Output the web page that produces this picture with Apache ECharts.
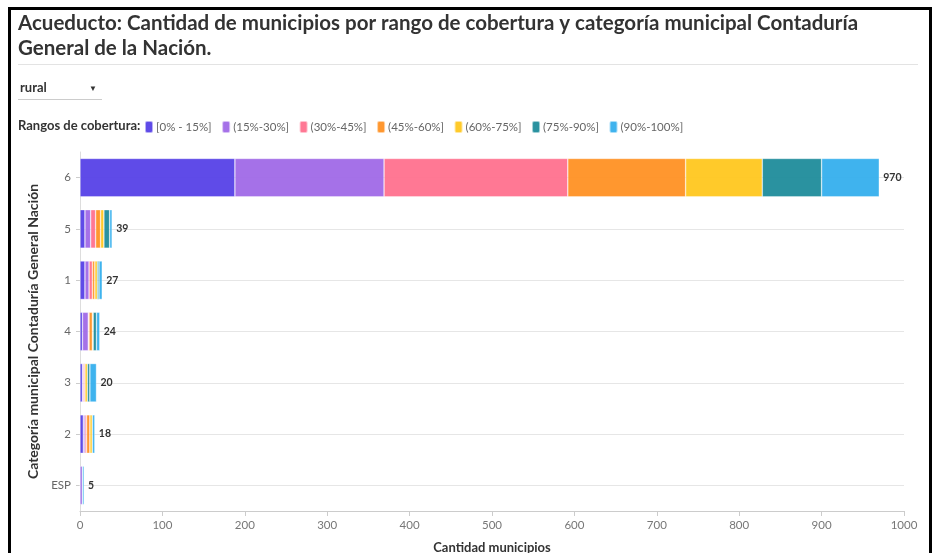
<!DOCTYPE html>
<html><head><meta charset="utf-8">
<script src="https://cdn.jsdelivr.net/npm/echarts@6/dist/echarts.min.js"></script>
<style>html,body{margin:0;padding:0;background:#fff}#c{width:933px;height:553px}</style>
</head><body><div id="c"></div>
<script>
const categories = ['6', '5', '1', '4', '3', '2', 'ESP'];
const rangeNames = ['[0% - 15%]', '(15%-30%]', '(30%-45%]', '(45%-60%]', '(60%-75%]', '(75%-90%]', '(90%-100%]'];
const r0_15   = [188, 6, 6, 3, 3, 4, 0];
const r15_30  = [181, 7, 5, 7, 1, 2, 3];
const r30_45  = [223, 6, 4, 1, 2, 2, 0];
const r45_60  = [143, 6, 3, 4, 0, 4, 0];
const r60_75  = [93, 4, 3, 1, 3, 3, 0];
const r75_90  = [72, 7, 2, 4, 3, 0, 0];
const r90_100 = [70, 3, 4, 4, 8, 3, 2];
const xTicks = [0, 100, 200, 300, 400, 500, 600, 700, 800, 900, 1000];
const colors = ['#533de6', '#9e66e6', '#ff6e8c', '#ff8f1f', '#ffc61a', '#1a8a99', '#30aded'];

const seriesData = [r0_15, r15_30, r30_45, r45_60, r60_75, r75_90, r90_100];
const totals = categories.map((c, i) => seriesData.reduce((s, a) => s + a[i], 0));
const FONT = 'Lato, "Noto Sans", sans-serif';

const chart = echarts.init(document.getElementById('c'));
const series = seriesData.map((d, k) => ({
  name: rangeNames[k], type: 'bar', stack: 'a', data: d, barWidth: '75%', z: 3,
  itemStyle: { color: colors[k], opacity: 0.93, borderColor: 'rgba(255,255,255,0.6)', borderWidth: 0.6 }
}));
series.push({
  name: 'total', type: 'bar', stack: 'a', data: categories.map(() => 0), z: 4,
  itemStyle: { color: 'transparent' },
  label: { show: true, position: 'right', distance: 4, fontFamily: FONT, fontWeight: 'bold', fontSize: 10.5, color: '#333',
    formatter: p => totals[p.dataIndex] }
});
series.push({
  name: 'grid', type: 'line', data: [], z: 1, silent: true,
  markLine: { silent: true, z: 1, symbol: 'none', label: { show: false },
    lineStyle: { color: '#e6e6e6', type: 'solid', width: 1 },
    data: categories.map(c => ({ yAxis: c })) }
});

chart.setOption({
  animation: false,
  color: colors,
  textStyle: { fontFamily: FONT },
  grid: { left: 80, right: 29, top: 152, bottom: 42, containLabel: false, outerBoundsMode: 'none' },
  legend: {
    data: rangeNames, left: 144, top: 120, padding: 0, itemWidth: 8, itemHeight: 12, itemGap: 9.5,
    icon: 'roundRect', textStyle: { fontFamily: FONT, fontSize: 11.5, color: '#666', padding: [0, 0, 0, -2] }
  },
  xAxis: {
    type: 'value', min: xTicks[0], max: xTicks[xTicks.length - 1], interval: 100,
    name: 'Cantidad municipios', nameLocation: 'middle', nameGap: 30,
    nameTextStyle: { fontFamily: FONT, fontWeight: 'bold', fontSize: 13, color: '#333' },
    axisLine: { show: true, lineStyle: { color: '#ccc' } },
    axisTick: { show: true, length: 5, lineStyle: { color: '#ccc' } },
    axisLabel: { fontSize: 11.5, color: '#777', margin: 8, formatter: v => String(v) },
    splitLine: { show: false }
  },
  yAxis: {
    type: 'category', data: categories, inverse: true,
    name: 'Categoría municipal Contaduría General Nación', nameLocation: 'middle', nameGap: 40,
    nameTextStyle: { fontFamily: FONT, fontWeight: 'bold', fontSize: 14, color: '#333' },
    axisLine: { show: true, lineStyle: { color: '#ddd' } },
    axisTick: { show: true, alignWithLabel: true, length: 4, lineStyle: { color: '#ccc' } },
    axisLabel: { fontSize: 11.5, color: '#666', margin: 9 },
    splitLine: { show: false }
  },
  graphic: [
    { type: 'rect', shape: { x: 9.5, y: 8.5, width: 921, height: 560 }, style: { fill: 'none', stroke: '#000', lineWidth: 3 }, z: 10 },
    { type: 'text', left: 18, top: 11, style: { text: 'Acueducto: Cantidad de municipios por rango de cobertura y categoría municipal Contaduría\nGeneral de la Nación.', font: 'bold 20.5px ' + FONT, fill: '#333', lineHeight: 25 } },
    { type: 'rect', shape: { x: 18, y: 64, width: 900, height: 1 }, style: { fill: '#e3e3e3' } },
    { type: 'text', left: 20, top: 81, style: { text: 'rural', font: 'bold 13px ' + FONT, fill: '#333' } },
    { type: 'text', left: 89, top: 84, style: { text: '▼', font: '8px ' + FONT, fill: '#333' } },
    { type: 'rect', shape: { x: 18, y: 99, width: 84, height: 1 }, style: { fill: '#ccc' } },
    { type: 'text', left: 18, top: 119, style: { text: 'Rangos de cobertura:', font: 'bold 13px ' + FONT, fill: '#333' } }
  ],
  series: series
});
</script></body></html>
